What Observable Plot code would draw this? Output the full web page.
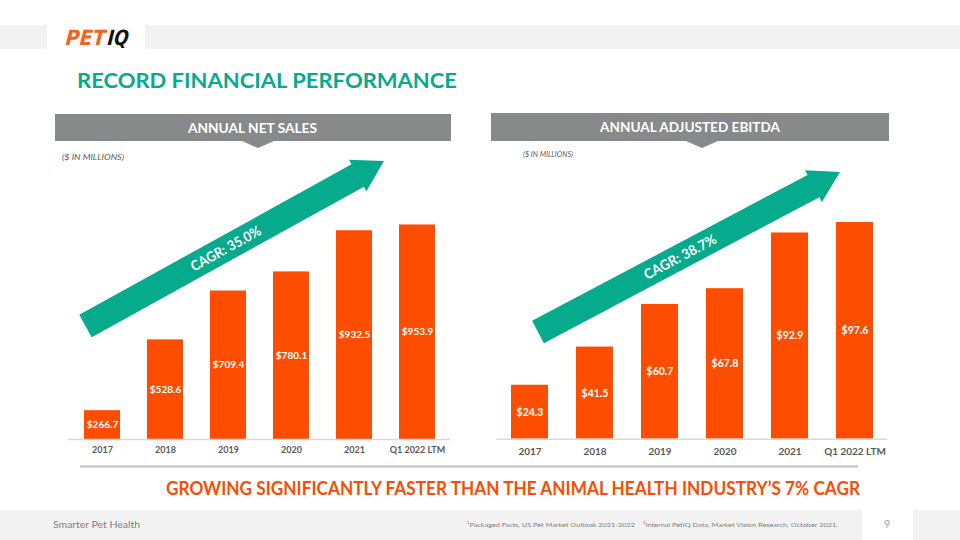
<!DOCTYPE html>
<html>
<head>
<meta charset="utf-8">
<script src="https://cdn.jsdelivr.net/npm/d3@7"></script>
<script src="https://cdn.jsdelivr.net/npm/@observablehq/plot@0.6"></script>
<style>
  html, body { margin: 0; padding: 0; background: #fff; }
  #slide { position: relative; width: 960px; height: 540px; overflow: hidden; background: #fff; font-family: Lato, "Open Sans", sans-serif; }
  #slide > svg, #slide > div.plot { position: absolute; }
  #slide > div.plot svg { display: block; }
</style>
</head>
<body>
<div id="slide">
  <svg id="bg" width="960" height="540" style="left:0;top:0"></svg>
  <div class="plot" id="left" style="left:0;top:140px"></div>
  <div class="plot" id="right" style="left:480px;top:140px"></div>
  <svg id="fg" width="960" height="540" style="left:0;top:0;pointer-events:none"></svg>
</div>
<script>
// ---- data ----
const periods = ["2017", "2018", "2019", "2020", "2021", "Q1 2022 LTM"];
const netSales = [266.7, 528.6, 709.4, 780.1, 932.5, 953.9];
const adjEbitda = [24.3, 41.5, 60.7, 67.8, 92.9, 97.6];
const cagrNetSales = "CAGR: 35.0%";
const cagrEbitda = "CAGR: 38.7%";

const ORANGE = "#fd4d00";
const TEAL = "#06aa8c";
const FONT = "Lato, 'Open Sans', sans-serif";

function chart(values, yDomain, opts) {
  const rows = periods.map((p, i) => ({period: p, value: values[i]}));
  const floor = yDomain[0];
  return Plot.plot({
    width: 480, height: 330,
    marginLeft: opts.ml, marginRight: opts.mr, marginTop: opts.mt, marginBottom: opts.mb,
    style: {background: "transparent", fontFamily: FONT},
    x: {domain: periods, paddingInner: opts.pad, paddingOuter: opts.pad / 2, axis: null},
    y: {domain: yDomain, clamp: true, axis: null},
    marks: [
      Plot.barY(rows, {x: "period", y: "value", fill: ORANGE}),
      Plot.ruleY([floor], {stroke: "#d9d9d9", strokeWidth: 1.5}),
      Plot.text(rows, {x: "period", y: d => (Math.max(floor, 0) + d.value) / 2,
        text: d => "$" + d.value.toFixed(1), fill: "white", fontWeight: "bold", fontSize: opts.fs}),
      Plot.axisX({anchor: "bottom", tickSize: 0, tickPadding: opts.tp, fontWeight: "bold",
        fill: "#595959", fontSize: opts.tfs, label: null})
    ]
  });
}

document.getElementById("left").append(
  chart(netSales, [160, 1000], {ml: 68, mr: 30, mt: 72, mb: 31, pad: 0.435, fs: 10, tfs: 9, tp: 7})
);
document.getElementById("right").append(
  chart(adjEbitda, [0, 110], {ml: 16.5, mr: 73, mt: 54.5, mb: 31.3, pad: 0.43, fs: 10.5, tfs: 10, tp: 8.5})
);

// ---- slide decoration ----
const NS = "http://www.w3.org/2000/svg";
function el(parent, tag, attrs, text) {
  const e = document.createElementNS(NS, tag);
  for (const k in attrs) e.setAttribute(k, attrs[k]);
  if (text != null) e.textContent = text;
  parent.appendChild(e);
  return e;
}
const bg = document.getElementById("bg");
const fg = document.getElementById("fg");

// top band + logo
el(bg, "rect", {x: 0, y: 25, width: 47, height: 24, fill: "#f2f2f2"});
el(bg, "rect", {x: 145, y: 25, width: 815, height: 24, fill: "#f2f2f2"});
const logo = el(fg, "g", {transform: "translate(0,45) skewX(-14)"});
el(logo, "text", {x: 64, y: 0, fill: "#f0641e", "font-family": "'DejaVu Sans', sans-serif",
  "font-weight": "bold", "font-size": 21, textLength: 40, lengthAdjust: "spacingAndGlyphs"}, "PET");
el(logo, "text", {x: 106, y: 0, fill: "#111", "font-family": "'DejaVu Sans', sans-serif",
  "font-weight": "bold", "font-size": 21, textLength: 21, lengthAdjust: "spacingAndGlyphs"}, "IQ");

// title
el(fg, "text", {x: 77, y: 88, fill: TEAL, "font-family": FONT, "font-weight": "bold", "font-size": 21,
  textLength: 380, lengthAdjust: "spacingAndGlyphs"}, "RECORD FINANCIAL PERFORMANCE");

// banners
function banner(x0, x1, y0, y1, cx, label, lx0, lx1) {
  el(bg, "rect", {x: x0, y: y0, width: x1 - x0, height: y1 - y0, fill: "#87898b"});
  el(bg, "polygon", {points: `${cx - 16},${y1} ${cx + 16},${y1} ${cx},${y1 + 7}`, fill: "#87898b"});
  el(fg, "text", {x: lx0, y: (y0 + y1) / 2 + 5, fill: "white", "font-family": FONT, "font-weight": "bold",
    "font-size": 13.5, textLength: lx1 - lx0, lengthAdjust: "spacingAndGlyphs"}, label);
}
banner(55, 451, 114, 141, 258, "ANNUAL NET SALES", 188, 317);
banner(491, 889, 113, 141, 702, "ANNUAL ADJUSTED EBITDA", 600, 780);

el(fg, "text", {x: 62, y: 160, fill: "#595959", "font-family": FONT, "font-style": "italic", "font-size": 7,
  textLength: 62, lengthAdjust: "spacingAndGlyphs"}, "($ IN MILLIONS)");
el(fg, "text", {x: 523, y: 157, fill: "#595959", "font-family": FONT, "font-style": "italic", "font-size": 7,
  textLength: 50, lengthAdjust: "spacingAndGlyphs"}, "($ IN MILLIONS)");

// arrows
function arrow(T, P, s, h, L, label, tlen) {
  const dx = P[0] - T[0], dy = P[1] - T[1], len = Math.hypot(dx, dy);
  const u = [dx / len, dy / len], n = [-u[1], u[0]];
  const B = [P[0] - u[0] * L, P[1] - u[1] * L];
  const pt = (b, k) => [b[0] + n[0] * k, b[1] + n[1] * k];
  const pts = [pt(T, -s), pt(B, -s), pt(B, -h), P, pt(B, h), pt(B, s), pt(T, s)];
  el(fg, "polygon", {points: pts.map(p => p.join(",")).join(" "), fill: TEAL});
  const ang = Math.atan2(dy, dx) * 180 / Math.PI;
  const m = [T[0] + u[0] * len * 0.47, T[1] + u[1] * len * 0.47];
  const g = el(fg, "g", {transform: `translate(${m[0]},${m[1]}) rotate(${ang})`});
  el(g, "text", {x: 0, y: 5, "text-anchor": "middle", fill: "white", "font-family": FONT, "font-weight": "bold",
    "font-size": 14, textLength: tlen, lengthAdjust: "spacingAndGlyphs"}, label);
}
arrow([85.5, 326], [384, 161], 12.8, 18, 30, cagrNetSales, 78);
arrow([538, 332], [840, 172], 12.6, 18, 30, cagrEbitda, 80);

// separator line
el(bg, "line", {x1: 80, x2: 858, y1: 466.5, y2: 466.5, stroke: "#bfbfbf", "stroke-width": 2});

// bottom statement
el(fg, "text", {x: 166, y: 495, fill: "#fc4c02", "font-family": FONT, "font-weight": "bold", "font-size": 18,
  textLength: 694, lengthAdjust: "spacingAndGlyphs"}, "GROWING SIGNIFICANTLY FASTER THAN THE ANIMAL HEALTH INDUSTRY\u2019S 7% CAGR");

// footer
el(bg, "rect", {x: 0, y: 510, width: 862, height: 30, fill: "#f2f2f2"});
el(bg, "rect", {x: 913, y: 510, width: 47, height: 30, fill: "#f2f2f2"});
el(fg, "text", {x: 53, y: 528, fill: "#7f7f7f", "font-family": FONT, "font-size": 10,
  textLength: 87, lengthAdjust: "spacingAndGlyphs"}, "Smarter Pet Health");
el(fg, "text", {x: 467, y: 527, fill: "#7f7f7f", "font-family": FONT, "font-size": 6.5,
  textLength: 168, lengthAdjust: "spacingAndGlyphs"}, "\u00B9Packaged Facts, US Pet Market Outlook 2021-2022");
el(fg, "text", {x: 643, y: 527, fill: "#7f7f7f", "font-family": FONT, "font-size": 6.5,
  textLength: 195, lengthAdjust: "spacingAndGlyphs"}, "\u00B2Internal PetIQ Data, Market Vision Research, October 2021.");
el(fg, "text", {x: 884, y: 528, fill: "#a6a6a6", "font-family": FONT, "font-size": 11}, "9");
</script>
</body>
</html>
